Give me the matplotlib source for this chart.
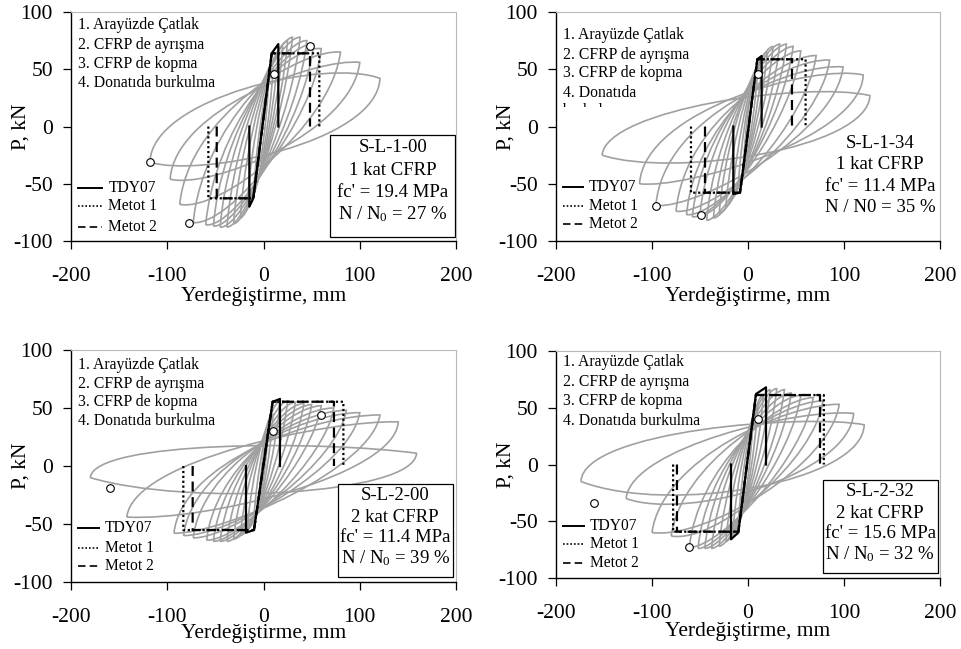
import matplotlib
matplotlib.use("Agg")
import matplotlib.pyplot as plt
from matplotlib.patches import Rectangle, PathPatch
from matplotlib.path import Path

plt.rcParams['font.family'] = ['Liberation Serif', 'DejaVu Serif']
plt.rcParams['mathtext.fontset'] = 'custom'
plt.rcParams['mathtext.rm'] = 'Liberation Serif'
plt.rcParams['mathtext.it'] = 'Liberation Serif:italic'
plt.rcParams['axes.unicode_minus'] = False

# ---------------- data ----------------
x_ticks = [-200, -100, 0, 100, 200]
y_ticks = [-100, -50, 0, 50, 100]
x_label = "Yerdeğiştirme, mm"
y_label = "P, kN"
damage_list = ["1. Arayüzde Çatlak", "2. CFRP de ayrışma", "3. CFRP de kopma", "4. Donatıda burkulma"]
legend_labels = ["TDY07", "Metot 1", "Metot 2"]

# hysteresis cycles, one row per cycle (displacement mm, load kN):
# [neg peak d, neg peak P, reload ctrl d, reload ctrl P, approach ctrl d, approach ctrl P,
#  pos peak d, pos peak P, unload ctrl d, unload ctrl P, approach ctrl d, approach ctrl P]
loops_SL100 = [
    [-5, -35, -3, -5, 2, 30, 5, 35, 3, 5, -2, -30],
    [-10, -55, -7, -8, 4, 45, 10, 50, 7, 8, -4, -50],
    [-17, -70, -13, -10, 6, 58, 15, 62, 11, 10, -7, -65],
    [-24, -80, -19, -10, 8, 66, 20, 70, 15, 10, -10, -75],
    [-31, -85, -25, -10, 10, 72, 25, 75, 19, 10, -13, -82],
    [-38, -88, -31, -10, 12, 76, 30, 78, 23, 10, -16, -86],
    [-45, -88, -38, -8, 16, 78, 38, 78, 30, 10, -20, -88],
    [-52, -87, -45, -6, 20, 76, 45, 75, 37, 8, -24, -88],
    [-60, -86, -52, -4, 24, 74, 52, 72, 44, 6, -28, -88],
    [-73, -84, -64, 0, 28, 72, 60, 68, 52, 4, -34, -86],
    [-87, -68, -78, 10, 40, 68, 80, 65, 70, 0, -45, -75],
    [-97, -46, -92, 15, 55, 60, 100, 56, 92, -5, -55, -55],
    [-118, -31, -116, 25, 65, 60, 121, 42, 118, -15, -70, -45],
]
loops_SL134 = [
    [-5, -35, -3, -5, 2, 30, 5, 35, 3, 5, -2, -30],
    [-10, -50, -7, -8, 4, 44, 10, 48, 7, 8, -4, -46],
    [-16, -62, -12, -10, 6, 55, 15, 58, 11, 10, -7, -58],
    [-23, -70, -18, -10, 8, 62, 20, 65, 15, 10, -10, -66],
    [-30, -76, -24, -10, 10, 68, 26, 70, 20, 10, -13, -73],
    [-36, -80, -29, -9, 13, 70, 33, 72, 26, 10, -16, -78],
    [-43, -82, -36, -8, 16, 70, 40, 72, 32, 9, -20, -80],
    [-50, -77, -43, -6, 20, 68, 47, 70, 38, 8, -24, -80],
    [-58, -79, -50, -4, 24, 66, 55, 66, 46, 6, -28, -80],
    [-64, -77, -56, 0, 30, 62, 71, 62, 62, 4, -32, -80],
    [-75, -74, -66, 5, 38, 60, 85, 58, 76, 0, -38, -78],
    [-96, -69, -88, 10, 50, 56, 99, 52, 92, -5, -50, -72],
    [-113, -50, -108, 15, 70, 55, 120, 45, 118, -10, -65, -55],
    [-152, -25, -148, 15, 60, 40, 127, 27, 125, -20, -80, -45],
]
loops_SL200 = [
    [-5, -30, -3, -4, 2, 26, 5, 30, 3, 4, -2, -26],
    [-10, -45, -7, -6, 4, 42, 10, 45, 7, 6, -4, -42],
    [-17, -55, -13, -8, 6, 54, 17, 56, 13, 8, -7, -52],
    [-24, -60, -19, -8, 9, 55, 25, 56, 19, 8, -10, -58],
    [-31, -63, -25, -8, 12, 54, 33, 55, 26, 8, -13, -62],
    [-38, -65, -31, -8, 15, 53, 42, 54, 34, 8, -16, -64],
    [-45, -65, -38, -7, 19, 52, 50, 53, 42, 7, -19, -64],
    [-52, -65, -45, -6, 23, 51, 60, 52, 51, 6, -22, -64],
    [-59, -64, -52, -5, 28, 50, 73, 50, 64, 5, -25, -64],
    [-73, -62, -65, -3, 34, 48, 86, 48, 77, 3, -30, -62],
    [-83, -60, -75, 0, 40, 46, 100, 46, 91, 0, -35, -60],
    [-93, -58, -86, 2, 50, 44, 121, 44, 112, -2, -40, -58],
    [-142, -44, -136, 5, 70, 40, 140, 38, 137, -8, -60, -48],
    [-180, -10, -176, 22, 60, 22, 159, 11, 157, -25, -80, -35],
]
loops_SL232 = [
    [-5, -35, -3, -5, 2, 30, 5, 35, 3, 5, -2, -30],
    [-10, -50, -7, -8, 4, 46, 10, 50, 7, 8, -4, -46],
    [-16, -62, -12, -10, 6, 58, 16, 62, 12, 10, -7, -58],
    [-23, -68, -18, -10, 9, 63, 23, 66, 17, 10, -10, -65],
    [-30, -72, -24, -10, 12, 65, 30, 67, 23, 10, -13, -70],
    [-38, -74, -31, -9, 15, 64, 38, 66, 30, 10, -16, -72],
    [-45, -74, -38, -8, 19, 62, 45, 63, 37, 9, -20, -73],
    [-52, -74, -45, -6, 23, 60, 55, 61, 46, 8, -24, -73],
    [-61, -73, -53, -4, 28, 58, 68, 59, 58, 6, -28, -73],
    [-80, -63, -70, 0, 34, 56, 78, 56, 70, 4, -34, -70],
    [-100, -60, -90, 5, 42, 54, 95, 53, 86, 0, -42, -66],
    [-127, -30, -122, 15, 55, 50, 110, 45, 106, -8, -60, -50],
    [-174, -15, -172, 30, 60, 45, 121, 35, 120, -15, -80, -45],
]

# idealised curves (d, P)
tdy_SL100 = ([-14.7, -14.7, -10.6, 8.5, 15.4, 15.4], [0, -70, -62.7, 63.9, 72, 0])
m1_SL100 = ([-57.3, -57.3, -10.6, 8.5, 58, 58], [0, -62.7, -62.7, 63.9, 63.9, 0])
m2_SL100 = ([-48.6, -48.6, -10.6, 8.5, 48.3, 48.3], [0, -62.7, -62.7, 63.9, 63.9, 0])

tdy_SL134 = ([-15.3, -15.3, -8.3, 9.7, 14.2, 14.2], [0, -59, -57.8, 58.7, 61.6, 0])
m1_SL134 = ([-59.4, -59.4, -8.3, 9.7, 60, 60], [0, -57.8, -57.8, 58.7, 58.7, 0])
m2_SL134 = ([-44.8, -44.8, -8.3, 9.7, 45.8, 45.8], [0, -57.8, -57.8, 58.7, 58.7, 0])

tdy_SL200 = ([-18.2, -18.2, -9.9, 9.5, 17.1, 17.1], [0, -57.5, -55.2, 55.4, 57.8, 0])
m1_SL200 = ([-83.3, -83.3, -9.9, 9.5, 83, 83], [0, -55.2, -55.2, 55.4, 55.4, 0])
m2_SL200 = ([-73.6, -73.6, -9.9, 9.5, 73.2, 73.2], [0, -55.2, -55.2, 55.4, 55.4, 0])

tdy_SL232 = ([-17.7, -17.7, -10.1, 8.3, 18.75, 18.75], [0, -65.9, -60, 62.1, 68, 0])
m1_SL232 = ([-78, -78, -10.1, 8.3, 79, 79], [0, -59.2, -59.2, 61.2, 61.2, 0])
m2_SL232 = ([-74, -74, -10.1, 8.3, 75, 75], [0, -59.2, -59.2, 61.2, 61.2, 0])

# damage markers (d, P)
marks_SL100 = ([-118, -77, 11, 48], [-31, -84, 46, 70])
marks_SL134 = ([-96, -49, 10.7], [-69, -77, 46])
marks_SL200 = ([-159, 10, 60], [-19, 30, 44])
marks_SL232 = ([-160, -61, 10.7], [-34, -73, 40])

info_SL100 = ["S-L-1-00", "1 kat CFRP", "fc' = 19.4 MPa", "N / N$_\\mathrm{0}$ = 27 %"]
info_SL134 = ["S-L-1-34", "1 kat CFRP", "fc' = 11.4 MPa", "N / N0 = 35 %"]
info_SL200 = ["S-L-2-00", "2 kat CFRP", "fc' = 11.4 MPa", "N / N$_\\mathrm{0}$ = 39 %"]
info_SL232 = ["S-L-2-32", "2 kat CFRP", "fc' = 15.6 MPa", "N / N$_\\mathrm{0}$ = 32 %"]

# ---------------- layout / style ----------------
GRAY = '#a0a0a0'
W, H = 961, 649
fig = plt.figure(figsize=(W / 100, H / 100), dpi=100)


def px_axes(l, t, r, b):
    return fig.add_axes([l / W, 1 - b / H, (r - l) / W, (b - t) / H])


panels = [
    dict(box=(71, 12, 456, 241), loops=loops_SL100, tdy=tdy_SL100, m1=m1_SL100, m2=m2_SL100,
         marks=marks_SL100, info=info_SL100, info_frame=(0.673, 0.017, 0.324, 0.446),
         info_x=0.836, info_y=[0.41, 0.31, 0.21, 0.118],
         list_x=0.018, list_y=[0.943, 0.856, 0.773, 0.69], hidden_last=False,
         leg_x=(0.019, 0.080, 0.097), leg_y=[0.231, 0.153, 0.061], xlab_y=-0.20),
    dict(box=(556, 12, 940, 241), loops=loops_SL134, tdy=tdy_SL134, m1=m1_SL134, m2=m2_SL134,
         marks=marks_SL134, info=info_SL134, info_frame=None,
         info_x=0.844, info_y=[0.424, 0.332, 0.240, 0.148],
         list_x=0.017, list_y=[0.90, 0.812, 0.734, 0.646], hidden_last=True,
         leg_x=(0.018, 0.070, 0.086), leg_y=[0.236, 0.153, 0.074], xlab_y=-0.20),
    dict(box=(71, 350, 456, 582), loops=loops_SL200, tdy=tdy_SL200, m1=m1_SL200, m2=m2_SL200,
         marks=marks_SL200, info=info_SL200, info_frame=(0.694, 0.022, 0.298, 0.400),
         info_x=0.842, info_y=[0.371, 0.28, 0.19, 0.103],
         list_x=0.019, list_y=[0.935, 0.852, 0.774, 0.694], hidden_last=False,
         leg_x=(0.019, 0.074, 0.088), leg_y=[0.233, 0.147, 0.069], xlab_y=-0.182),
    dict(box=(556, 351, 940, 578), loops=loops_SL232, tdy=tdy_SL232, m1=m1_SL232, m2=m2_SL232,
         marks=marks_SL232, info=info_SL232, info_frame=(0.695, 0.022, 0.300, 0.410),
         info_x=0.844, info_y=[0.379, 0.286, 0.198, 0.106],
         list_x=0.017, list_y=[0.953, 0.862, 0.78, 0.693], hidden_last=False,
         leg_x=(0.018, 0.073, 0.088), leg_y=[0.229, 0.150, 0.066], xlab_y=-0.195),
]

TICK_FS = 15.5
LIST_FS = 11.3
LEG_FS = 11.2
INFO_FS = 13.5

for p in panels:
    ax = px_axes(*p['box'])
    # gray hysteresis loops drawn as Bezier paths from the read peaks / tangent points
    for row in p['loops']:
        dn, Pn, c1d, c1P, c2d, c2P, dp, Pp, c3d, c3P, c4d, c4P = row
        verts = [(dn, Pn), (c1d, c1P), (c2d, c2P), (dp, Pp),
                 (c3d, c3P), (c4d, c4P), (dn, Pn)]
        codes = [Path.MOVETO, Path.CURVE4, Path.CURVE4, Path.CURVE4,
                 Path.CURVE4, Path.CURVE4, Path.CURVE4]
        ax.add_patch(PathPatch(Path(verts, codes), facecolor='none', edgecolor=GRAY,
                               lw=1.2, zorder=1))
    # idealised curves
    ax.plot(*p['m1'], color='black', lw=1.6, ls=(0, (1, 1.2)), zorder=3)
    ax.plot(*p['m2'], color='black', lw=1.6, ls=(0, (4.5, 2.5)), zorder=3)
    ax.plot(*p['tdy'], color='black', lw=1.6, ls='-', zorder=3)
    ax.plot(*p['marks'], ls='none', marker='o', ms=5.5, mfc='white', mec='black', mew=0.8, zorder=4)

    ax.set_xlim(-200, 200)
    ax.set_ylim(-100, 100)
    ax.set_xticks(x_ticks)
    ax.set_yticks(y_ticks)
    ax.tick_params(direction='out', length=6, width=0.9, labelsize=TICK_FS, color='black')
    ax.tick_params(axis='x', pad=13)
    ax.tick_params(axis='y', pad=7)
    ax.tick_params(top=False, right=False)
    for s in ['top', 'right']:
        ax.spines[s].set_color('#b8b8b8')
        ax.spines[s].set_linewidth(0.8)
    for s in ['left', 'bottom']:
        ax.spines[s].set_color('black')
        ax.spines[s].set_linewidth(1.0)
    ax.set_xlabel(x_label, fontsize=TICK_FS)
    ax.set_ylabel(y_label, fontsize=TICK_FS)
    ax.xaxis.set_label_coords(0.5, p['xlab_y'])
    ax.yaxis.set_label_coords(-0.105, 0.5)

    # damage type list
    for i, (txt, yy) in enumerate(zip(damage_list, p['list_y'])):
        if p['hidden_last'] and i == 3:
            ax.text(p['list_x'], yy, "4. Donatıda", transform=ax.transAxes,
                    fontsize=LIST_FS, va='center', ha='left', zorder=6)
            ax.text(p['list_x'], 0.566, "burkulma", transform=ax.transAxes,
                    fontsize=LIST_FS, va='center', ha='left', zorder=6)
            # the last word is hidden in the original except for its ascender tips
            ax.add_patch(Rectangle((0.005, 0.532), 0.175, 0.052, transform=ax.transAxes,
                                   facecolor='white', edgecolor='none', zorder=6.5))
        else:
            ax.text(p['list_x'], yy, txt, transform=ax.transAxes,
                    fontsize=LIST_FS, va='center', ha='left', zorder=6)

    # legend of line styles
    x0, x1, xt = p['leg_x']
    styles = ['-', (0, (1, 1.2)), (0, (4.5, 2.5))]
    for lab, st, yy in zip(legend_labels, styles, p['leg_y']):
        ax.plot([x0, x1], [yy, yy], transform=ax.transAxes, color='black',
                lw=1.4 if st == '-' else 1.2, ls=st, zorder=6, clip_on=False)
        ax.text(xt, yy, lab, transform=ax.transAxes, fontsize=LEG_FS,
                va='center', ha='left', zorder=6)

    # specimen info
    if p['info_frame'] is not None:
        fx, fy, fw, fh = p['info_frame']
        ax.add_patch(Rectangle((fx, fy), fw, fh, transform=ax.transAxes,
                               facecolor='white', edgecolor='black', lw=0.9, zorder=5))
    for txt, yy in zip(p['info'], p['info_y']):
        ax.text(p['info_x'], yy, txt, transform=ax.transAxes, fontsize=INFO_FS,
                va='center', ha='center', zorder=6)

fig.savefig('out.png', dpi=100)
